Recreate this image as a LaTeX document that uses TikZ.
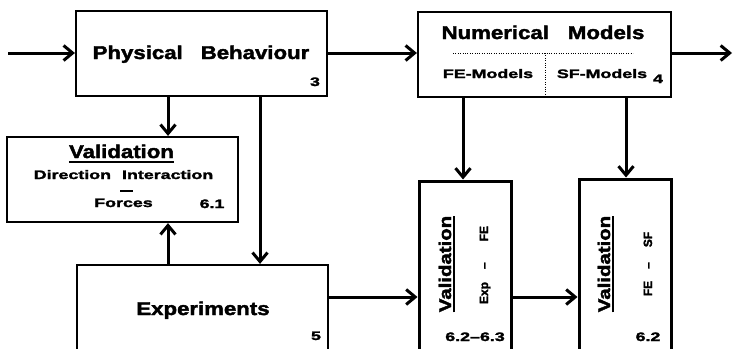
\documentclass[tikz,border=0pt]{standalone}
\usepackage{fontspec}
\usetikzlibrary{arrows.meta}
% wide, heavy sans faces used throughout the chart
\newfontfamily\bigf{Liberation Sans Bold}[FakeStretch=1.2, FakeBold=2.2]
\newfontfamily\smf{Liberation Sans Bold}[FakeStretch=1.45, FakeBold=2]
\newfontfamily\rotf{Liberation Sans Bold}[FakeBold=2]

\tikzset{
  box/.style={draw, rectangle, line width=2.2pt, inner sep=0pt},
  vbox/.style={box, line width=3pt},
  arr/.style={line width=3pt, -{Straight Barb[length=9pt,width=15pt]}},
  ttl/.style={font=\bigf\fontsize{18.5}{20}\selectfont, anchor=base, inner sep=0pt},
  ttlr/.style={font=\bigf\fontsize{17}{19}\selectfont, anchor=base, inner sep=0pt, rotate=90},
  sml/.style={font=\smf\fontsize{12.3}{14}\selectfont, anchor=base, inner sep=0pt},
  rot/.style={font=\rotf\fontsize{12}{14}\selectfont, anchor=base, inner sep=0pt, rotate=90},
  uline/.style={line width=2.2pt},
  dots/.style={line width=0.8pt, dash pattern=on 0.8pt off 1.6pt},
}

\begin{document}
\begin{tikzpicture}[x=1pt,y=-1pt]
\useasboundingbox (0,0) rectangle (733,348);
\fill[white] (0,0) rectangle (733,348);
\clip (0,0) rectangle (733,348);

% ---- boxes ----
\node[box, minimum width=251pt, minimum height=85pt] (pb)  at (201.5,53.5) {};
\node[box, minimum width=253pt, minimum height=85pt] (nm)  at (544.5,54.5) {};
\node[box, minimum width=231pt, minimum height=85pt] (v61) at (122.5,179.5) {};
\node[box, minimum width=251pt, minimum height=95pt] (exp) at (202.5,312.5) {};
\node[vbox, minimum width=92pt, minimum height=179pt] (vef) at (465,270.5) {};
\node[vbox, minimum width=92pt, minimum height=181pt] (vfs) at (625,269.5) {};

% ---- physical behaviour ----
\node[ttl] (pbt) at (201,59) {Physical\hspace{18pt}Behaviour};
\node[sml] (pbn) at (315,86) {3};

% ---- numerical models ----
\node[ttl] (nmt) at (543,39) {Numerical\hspace{19pt}Models};
\draw[dots] (453,53) -- (633,53);
\draw[dots] (545,53) -- (545,96);
\node[sml] (fem) at (488,78) {FE-Models};
\node[sml] (sfm) at (602,78) {SF-Models};
\node[sml] (nmn) at (658,83) {4};

% ---- validation 6.1 ----
\node[ttl] (v61t) at (121.5,158) {Validation};
\draw[uline] ([yshift=-4pt]v61t.base west) -- ([yshift=-4pt]v61t.base east);
\node[sml] (v61a) at (123.5,179) {Direction\hspace{11pt}\makebox[0pt][l]{\hspace{-2pt}\rule[-13pt]{13pt}{2.4pt}}Interaction};
\node[sml] (v61b) at (123.5,207) {Forces};
\node[sml] (v61n) at (212,208) {6.1};

% ---- experiments ----
\node[ttl] (expt) at (203,315) {Experiments};
\node[sml] (expn) at (316,340) {5};

% ---- validation Exp - FE ----
\node[ttlr] (vet) at (451,264) {Validation};
\draw[uline] ([xshift=3pt]vet.base west) -- ([xshift=3pt]vet.base east);
\node[rot] (vea) at (488,265) {Exp\hspace{13pt}–\hspace{21pt}FE};
\node[sml] (ven) at (475,341) {6.2–6.3};

% ---- validation FE - SF ----
\node[ttlr] (vst) at (610,264) {Validation};
\draw[uline] ([xshift=3pt]vst.base west) -- ([xshift=3pt]vst.base east);
\node[rot] (vsa) at (652,264) {FE\hspace{12pt}–\hspace{15pt}SF};
\node[sml] (vsn) at (648,341) {6.2};

% ---- connectors ----
\coordinate (in)  at (8,53);
\coordinate (out) at (732,53);
\coordinate (ya) at (0,53);
\coordinate (yb) at (0,297);
\coordinate (xa) at (168,0);
\coordinate (xb) at (260,0);
\coordinate (xc) at (463,0);
\coordinate (xd) at (626,0);

\draw[arr] (in) -- (pb.west |- in);
\draw[arr] (pb.east |- ya) -- (nm.west |- ya);
\draw[arr] (nm.east |- ya) -- (out);
\draw[arr] (pb.south -| xa) -- (v61.north -| xa);
\draw[arr] (pb.south -| xb) -- (exp.north -| xb);
\draw[arr] (exp.north -| xa) -- (v61.south -| xa);
\draw[arr] (nm.south -| xc) -- (vef.north -| xc);
\draw[arr] (nm.south -| xd) -- (vfs.north -| xd);
\draw[arr] (exp.east |- yb) -- (vef.west |- yb);
\draw[arr] (vef.east |- yb) -- (vfs.west |- yb);
\end{tikzpicture}
\end{document}
